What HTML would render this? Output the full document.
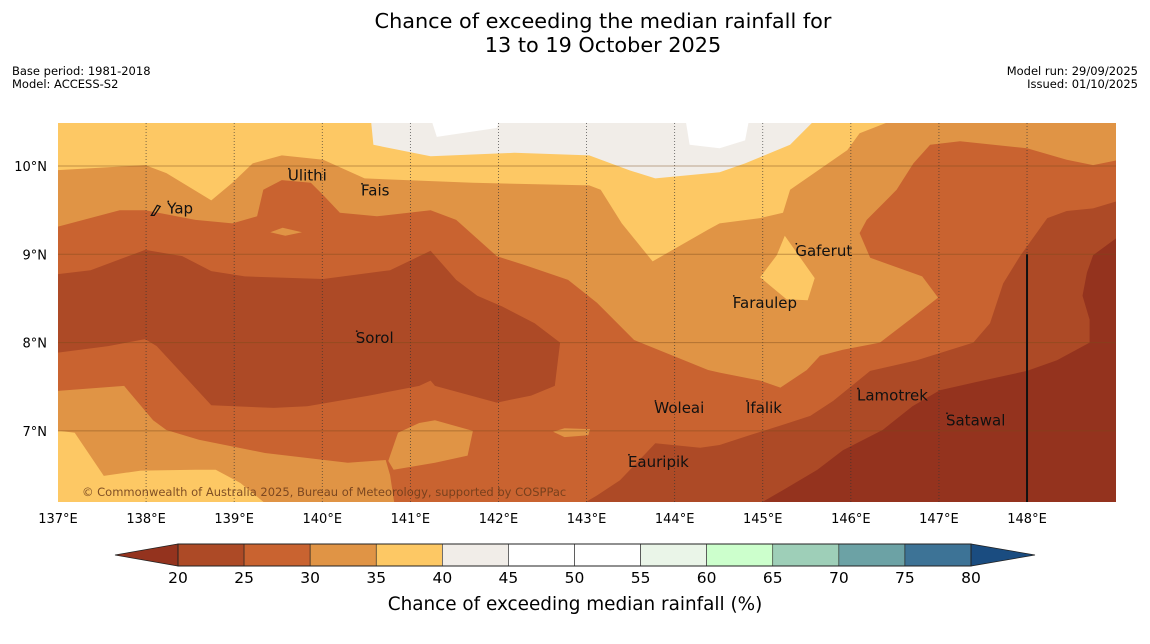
<!DOCTYPE html>
<html><head><meta charset="utf-8">
<style>
html,body{margin:0;padding:0;background:#fff;}
svg{display:block;font-family:"DejaVu Sans","Liberation Sans",sans-serif;}
</style></head>
<body>
<svg id="chart" width="1150" height="644" viewBox="0 0 1150 644">
  <text x="603" y="28" font-size="20.8" text-anchor="middle">Chance of exceeding the median rainfall for</text>
  <text x="603" y="52" font-size="20.8" text-anchor="middle">13 to 19 October 2025</text>
  <text x="12" y="75" font-size="11.5">Base period: 1981-2018</text>
  <text x="12" y="88" font-size="11.5">Model: ACCESS-S2</text>
  <text x="1138" y="75" font-size="11.5" text-anchor="end">Model run: 29/09/2025</text>
  <text x="1138" y="88" font-size="11.5" text-anchor="end">Issued: 01/10/2025</text>
  <defs><clipPath id="plotclip"><rect x="58" y="123" width="1058" height="379"/></clipPath></defs>
  <g id="map" clip-path="url(#plotclip)"></g>
  <g id="overlay"></g>
  <g id="axes"></g>
  <g id="cbar"></g>
  <text x="575" y="610" font-size="18.4" text-anchor="middle">Chance of exceeding median rainfall (%)</text>
</svg>
<script>
// ---- data ----
const lonTicks = [137,138,139,140,141,142,143,144,145,146,147,148];
const latTicks = [10,9,8,7];
const cbarLevels = [20,25,30,35,40,45,50,55,60,65,70,75,80];
const cbarColors = ["#ad4a26","#c96330","#e09445","#fdc864","#f1ede8","#ffffff","#ffffff","#eaf5e8","#ccffcc","#9ecfb8","#6ca2a5","#3d7396"];
const cbarUnder = "#94331e";
const cbarOver = "#1a4c80";

const bandGray = [[140.55,10.55],[140.58,10.24],[141.23,10.11],[142.18,10.15],[143.03,10.12],[143.49,9.95],[143.78,9.86],[144.51,9.93],[144.80,10.03],[145.31,10.24],[145.62,10.55]];
const bandWhiteA = [[141.23,10.55],[141.30,10.33],[141.98,10.43],[142.02,10.55]];
const bandWhiteB = [[144.12,10.55],[144.17,10.24],[144.51,10.20],[144.80,10.29],[144.85,10.55]];
const bandOrange = [[136.95,9.95],[137.99,10.01],[138.23,9.92],[138.74,9.61],[138.98,9.81],[139.21,10.03],[139.54,10.12],[140.01,10.07],[140.48,9.86],[141.71,9.81],[143.03,9.78],[143.16,9.73],[143.40,9.35],[143.75,8.92],[144.38,9.28],[144.51,9.35],[144.97,9.41],[145.23,9.47],[145.31,9.73],[145.96,10.18],[146.10,10.37],[146.56,10.55],[149.05,10.55],[149.05,6.1],[139.45,6.1],[139.07,6.41],[138.79,6.56],[138.56,6.56],[137.94,6.55],[137.52,6.49],[137.19,6.98],[136.95,7.01]];
const bandYellowIsland = [[145.25,9.21],[145.59,8.73],[145.51,8.48],[145.27,8.49],[144.97,8.74],[145.16,8.99]];
const bandDarkOrange = [[136.95,9.30],[137.70,9.50],[137.99,9.50],[138.56,9.39],[138.98,9.35],[139.26,9.43],[139.33,9.73],[139.54,9.84],[139.87,9.81],[140.01,9.67],[140.20,9.47],[140.62,9.43],[141.23,9.50],[141.52,9.39],[141.98,8.98],[142.32,8.87],[142.79,8.71],[143.12,8.45],[143.54,8.03],[144.38,7.69],[144.51,7.66],[144.97,7.57],[145.20,7.49],[145.50,7.69],[145.65,7.85],[145.91,7.92],[146.33,8.00],[146.67,8.26],[146.99,8.51],[146.81,8.75],[146.22,8.96],[146.10,9.24],[146.18,9.39],[146.52,9.73],[146.71,10.03],[146.90,10.24],[147.24,10.28],[148.00,10.20],[148.45,10.07],[148.75,10.01],[149.05,10.07],[149.05,6.1],[140.83,6.1],[140.77,6.50],[140.72,6.67],[140.29,6.64],[139.35,6.75],[138.60,6.90],[138.23,7.01],[138.08,7.12],[137.75,7.51],[136.95,7.45]];
const bandOrangeIslandA = [[140.86,6.98],[141.10,7.09],[141.28,7.12],[141.71,7.00],[141.65,6.72],[141.28,6.64],[140.81,6.56],[140.75,6.66]];
const bandOrangeIslandB = [[139.41,9.25],[139.55,9.30],[139.77,9.25],[139.58,9.21]];
const bandOrangeIslandC = [[142.62,6.99],[142.75,7.03],[143.04,7.02],[143.02,6.95],[142.75,6.93]];
const bandBrownWest = [[136.95,8.77],[137.37,8.82],[137.99,9.05],[138.41,8.98],[138.74,8.81],[139.12,8.75],[140.01,8.72],[140.77,8.82],[141.23,9.04],[141.52,8.71],[141.76,8.53],[142.04,8.41],[142.41,8.22],[142.70,8.00],[142.64,7.51],[142.37,7.40],[141.98,7.32],[141.28,7.51],[141.23,7.57],[141.10,7.51],[140.53,7.40],[139.83,7.28],[139.45,7.26],[138.74,7.29],[138.51,7.54],[138.12,7.96],[137.99,8.04],[137.57,7.96],[136.95,7.88]];
const bandBrownEast = [[142.83,6.1],[143.12,6.27],[143.38,6.44],[143.78,6.86],[144.29,6.81],[144.51,6.84],[144.85,6.95],[145.23,7.07],[145.54,7.17],[145.80,7.34],[146.22,7.68],[146.75,7.80],[147.39,8.00],[147.58,8.22],[147.73,8.67],[147.92,8.98],[148.23,9.41],[148.45,9.49],[148.75,9.52],[149.05,9.61],[149.05,6.1]];
const bandDarkest = [[144.83,6.1],[145.23,6.33],[145.62,6.56],[145.91,6.78],[146.36,7.01],[146.70,7.28],[147.01,7.46],[147.54,7.58],[148.00,7.68],[148.34,7.80],[148.71,8.00],[148.71,8.26],[148.63,8.53],[148.68,8.79],[148.75,8.99],[149.05,9.21],[149.05,6.1]];

const placeNames = ["Yap","Ulithi","Fais","Gaferut","Faraulep","Sorol","Woleai","Ifalik","Lamotrek","Satawal","Eauripik"];
const placeLon = [138.24,139.61,140.44,145.37,144.66,140.38,143.77,144.81,146.07,147.08,143.47];
const placeLat = [9.52,9.89,9.72,9.04,8.45,8.05,7.26,7.26,7.40,7.12,6.65];

// ---- axes functions ----
const X0=58, X1=1116, LON0=137, LON1=149.01;
const Y10=166, PXLAT=88.3;
function xs(lon){ return X0 + (lon-LON0)*(X1-X0)/(LON1-LON0); }
function ys(lat){ return Y10 + (10-lat)*PXLAT; }
function cx(v){ return 178 + (v-20)*(971-178)/60; }

const NS="http://www.w3.org/2000/svg";
function mk(tag, attrs, parent){
  const e=document.createElementNS(NS,tag);
  for(const k in attrs) e.setAttribute(k,attrs[k]);
  parent.appendChild(e); return e;
}
const map=document.getElementById('map');
const bg=mk('rect',{x:58,y:123,width:1058,height:379,fill:"#fdc864"},map);



function poly(pts, fill, name){
  const d=pts.map(p=>xs(p[0]).toFixed(1)+","+ys(p[1]).toFixed(1)).join(" ");
  const e=mk('polygon',{points:d,fill:fill},map);
  
  
}
poly(bandGray,"#f1ede8","band-40-45");
poly(bandWhiteA,"#ffffff","band-45-50-a");
poly(bandWhiteB,"#ffffff","band-45-50-b");
poly(bandOrange,"#e09445","band-30-35");
poly(bandYellowIsland,"#fdc864","band-35-40-island");
poly(bandDarkOrange,"#c96330","band-25-30");
poly(bandOrangeIslandA,"#e09445","band-30-35-island-a");
poly(bandOrangeIslandB,"#e09445","band-30-35-island-b");
poly(bandOrangeIslandC,"#e09445","band-30-35-island-c");
poly(bandBrownWest,"#ad4a26","band-20-25-west");
poly(bandBrownEast,"#ad4a26","band-20-25-east");
poly(bandDarkest,"#94331e","band-below-20");

// gridlines
const ov=document.getElementById('overlay');
lonTicks.forEach(l=>{
  if(l===137) return;
  const g=mk('line',{x1:xs(l),x2:xs(l),y1:123,y2:502,stroke:"#333",'stroke-width':0.8,'stroke-dasharray':"1,2",opacity:0.8},ov);
  
  
});
latTicks.forEach(l=>{
  const g=mk('line',{x1:58,x2:1116,y1:ys(l),y2:ys(l),stroke:"#7a4a1a",'stroke-width':1,opacity:0.45},ov);
  
  
});
const vl=mk('line',{x1:xs(148),x2:xs(148),y1:ys(9),y2:502,stroke:"#111",'stroke-width':2},ov);



const cp=mk('text',{x:82,y:496,'font-size':11.5,fill:"#6b3a1a",opacity:0.85},ov);
cp.textContent="© Commonwealth of Australia 2025, Bureau of Meteorology, supported by COSPPac";



placeNames.forEach((n,i)=>{
  const x=xs(placeLon[i]), y=ys(placeLat[i]);
  const dot=mk('circle',{cx:x+1,cy:y-7,r:0.9,fill:"#111"},ov);
  
  
  const t=mk('text',{x:x,y:y+5,'font-size':15,fill:"#111"},ov);
  t.textContent=n;
  
  
});
const yap=mk('path',{d:"M"+(xs(138.24)-16)+","+(ys(9.52)+7)+" l6,-10 l3,1 l-6,9 z",fill:"none",stroke:"#111",'stroke-width':1.2},ov);



// axes labels
const ax=document.getElementById('axes');
lonTicks.forEach(l=>{
  const t=mk('text',{x:xs(l),y:523,'font-size':13,'text-anchor':'middle'},ax);
  t.textContent=l+"°E";
  
  
});
latTicks.forEach(l=>{
  const t=mk('text',{x:47,y:ys(l)+5,'font-size':13,'text-anchor':'end'},ax);
  t.textContent=l+"°N";
  
  
});

// colorbar
const cb=document.getElementById('cbar');
const cy0=544, cy1=566, cym=555;
const under=mk('polygon',{points:`115,${cym} ${cx(20)},${cy0} ${cx(20)},${cy1}`,fill:cbarUnder,stroke:"#222",'stroke-width':0.8},cb);


const over=mk('polygon',{points:`1035,${cym} ${cx(80)},${cy0} ${cx(80)},${cy1}`,fill:cbarOver,stroke:"#222",'stroke-width':0.8},cb);


cbarColors.forEach((c,i)=>{
  const a=cx(cbarLevels[i]), b=cx(cbarLevels[i+1]);
  const r=mk('rect',{x:a,y:cy0,width:b-a,height:cy1-cy0,fill:c,stroke:"#222",'stroke-width':0.6},cb);
  
  
});
const fr=mk('rect',{x:cx(20),y:cy0,width:cx(80)-cx(20),height:cy1-cy0,fill:"none",stroke:"#222",'stroke-width':1},cb);


cbarLevels.forEach(v=>{
  const t=mk('text',{x:cx(v),y:583,'font-size':15.5,'text-anchor':'middle'},cb);
  t.textContent=v;
  
  
});
</script>
</body></html>
